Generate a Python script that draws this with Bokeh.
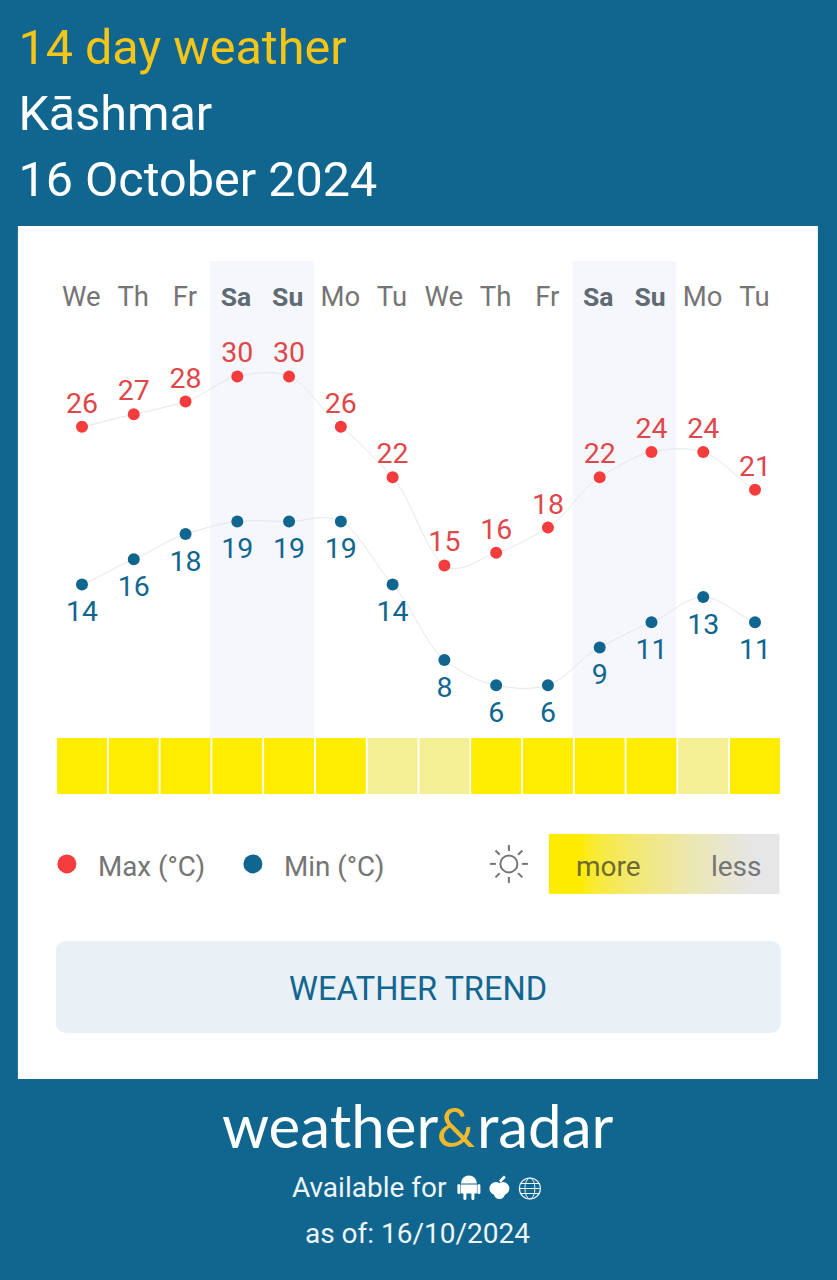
import numpy as np
from bokeh.core.properties import value
from bokeh.embed import file_html
from bokeh.models import GlobalInlineStyleSheet, Range1d
from bokeh.plotting import figure
from bokeh.resources import INLINE

days = ["We", "Th", "Fr", "Sa", "Su", "Mo", "Tu", "We", "Th", "Fr", "Sa", "Su", "Mo", "Tu"]
max_temps = [26, 27, 28, 30, 30, 26, 22, 15, 16, 18, 22, 24, 24, 21]
min_temps = [14, 16, 18, 19, 19, 19, 14, 8, 6, 6, 9, 11, 13, 11]
sunshine = [1, 1, 1, 1, 1, 1, 0, 0, 1, 1, 1, 1, 0, 1]

BLUE = "#10668f"
RED = "#f43c3c"
GREY = "#757575"
DAY_PX = 51.77
DEG_PX = 12.6
SHIFT = 0.6  # the frame lands a little right and down of the reference


def to_day(px):
    return (px - SHIFT - 81.5) / DAY_PX


def to_deg(py):
    return 30 + (375.9 - py) / DEG_PX


MIN_SHIFT = 0.51  # min series sits a little lower than the max one in the picture
TEXT_DROP = 1.2

p = figure(
    width=837,
    height=1280,
    output_backend="svg",
    toolbar_location=None,
    x_axis_type=None,
    y_axis_type=None,
    min_border=0,
    x_range=Range1d(to_day(SHIFT), to_day(837 + SHIFT)),
    y_range=Range1d(to_deg(1280 + SHIFT - 0.6), to_deg(SHIFT - 0.6)),
    background_fill_color=BLUE,
    border_fill_color=BLUE,
    outline_line_color=None,
)
p.grid.visible = False
p.extra_y_ranges["min"] = Range1d(to_deg(1280) + MIN_SHIFT, to_deg(0) + MIN_SHIFT)
p.stylesheets = [GlobalInlineStyleSheet(css=f"body {{ background: {BLUE}; }}")]


def label(px, py, text, size, color, align="left", style="normal", font="Roboto"):
    p.text(
        [to_day(px)], [to_deg(py + TEXT_DROP - 0.6)], text=[text], text_font=value(font),
        text_font_size=f"{size}px", text_color=color, text_align=align,
        text_baseline="middle", text_font_style=style,
    )


def smooth_curve(x, y, y_range_name="default"):
    # cardinal spline through the points, one bezier per day
    x = np.asarray(x, dtype=float)
    y = np.asarray(y, dtype=float)
    t = np.zeros(len(y))
    t[1:-1] = 0.4 * (y[2:] - y[:-2])
    t[0] = 0.8 * (y[1] - y[0])
    t[-1] = 0.8 * (y[-1] - y[-2])
    p.bezier(
        x[:-1], y[:-1], x[1:], y[1:],
        x[:-1] + 1 / 3, y[:-1] + t[:-1] / 3,
        x[1:] - 1 / 3, y[1:] - t[1:] / 3,
        line_color="#e4e6e9", line_width=1, y_range_name=y_range_name,
    )


x = np.arange(len(days))

# card
p.quad(left=to_day(18), right=to_day(818), top=to_deg(225.4), bottom=to_deg(1078.4), fill_color="white", line_color=None)

# weekend bands
weekend = [i for i, d in enumerate(days) if d in ("Sa", "Su")]
p.vbar(x=[i - 0.025 for i in weekend], width=1.0, top=to_deg(260.4), bottom=to_deg(737.4), fill_color="#f5f7fc", line_color=None)

# day names
for i, d in enumerate(days):
    if d in ("Sa", "Su"):
        label(80.7 + i * DAY_PX, 295, d, 26.5, "#5f6b72", "center", "bold")
    else:
        label(81.5 + i * DAY_PX, 295, d, 27.5, GREY, "center")

# temperature curves
smooth_curve(x, max_temps)
smooth_curve(x, min_temps, "min")
p.scatter(x, max_temps, size=12, fill_color=RED, line_color=None)
p.scatter(x, min_temps, size=12, fill_color=BLUE, line_color=None, y_range_name="min")
p.text(x, max_temps, text=[str(v) for v in max_temps], text_font=value("Roboto"), text_font_size="28.5px",
       text_color="#e0474a", text_align="center", text_baseline="middle", y_offset=-24)
p.text(x, min_temps, text=[str(v) for v in min_temps], text_font=value("Roboto"), text_font_size="28.5px",
       text_color=BLUE, text_align="center", text_baseline="middle", y_offset=27, y_range_name="min")

# sunshine strip
sun_colors = ["#ffec00" if s else "#f4ef94" for s in sunshine]
p.vbar(x=x, width=0.965, top=to_deg(737.4), bottom=to_deg(793.4), fill_color=sun_colors, line_color=None)

# legend
p.scatter([to_day(67), to_day(253)], [to_deg(863.4)] * 2, size=19, fill_color=[RED, BLUE], line_color=None)
label(98, 865, "Max (°C)", 27.8, GREY)
label(284, 865, "Min (°C)", 27.8, GREY)

# sun icon
angles = np.arange(8) * np.pi / 4
p.segment(to_day(509 + 13 * np.cos(angles)), to_deg(863.4 + 13 * np.sin(angles)),
          to_day(509 + 19 * np.cos(angles)), to_deg(863.4 + 19 * np.sin(angles)),
          line_color=GREY, line_width=2)
p.scatter([to_day(509)], [to_deg(863.4)], size=17, fill_color=None, line_color=GREY, line_width=2)

# more / less gradient
edges = np.arange(549, 781, 2)
mix = np.clip((edges[:-1] - 580) / 170, 0, 1) ** 0.6
grad = [f"#{int(255 + (230 - 255) * m):02x}{int(236 + (230 - 236) * m):02x}{int(0 + 230 * m):02x}" for m in mix]
p.quad(left=to_day(edges[:-1]), right=to_day(edges[1:] + 0.5), top=to_deg(833.4), bottom=to_deg(893.4), fill_color=grad, line_color=None)
label(576, 865, "more", 28, "#6f6a2e")
label(711, 865, "less", 28, GREY)

# button
p.quad(left=to_day(56), right=to_day(781), top=to_deg(940.4), bottom=to_deg(1032.4),
       fill_color="#e9f0f6", line_color=None, border_radius=10)
label(418.5, 988, "WEATHER TREND", 32.6, BLUE, "center")

# header
label(18.5, 46, "14 day weather", 48.5, "#f5c518")
label(18.5, 112, "Kāshmar", 48.5, "white")
label(18.5, 178, "16 October 2024", 48.5, "white")

# logo and footer
label(222, 1124, "weather", 60, "white", font="Lato")
label(456, 1125, "&", 54, "#eeb92d", "center", font="Lato")
label(477, 1124, "radar", 60, "white", font="Lato")
label(292, 1186, "Available for", 28, "#eef5f8")
label(305, 1232, "as of: 16/10/2024", 28, "#eef5f8")

# android icon
p.wedge([to_day(469)], [to_deg(1183)], radius=8, radius_units="screen", start_angle=0, end_angle=np.pi,
        fill_color="white", line_color=None)
p.quad(left=to_day(461), right=to_day(477), top=to_deg(1184), bottom=to_deg(1193), fill_color="white", line_color=None)
p.segment(to_day(np.array([459, 479, 465, 473])), to_deg(np.array([1185, 1185, 1192, 1192])),
          to_day(np.array([459, 479, 465, 473])), to_deg(np.array([1192, 1192, 1198, 1198])),
          line_color="white", line_width=3, line_cap="round")

# apple icon
p.scatter(to_day(np.array([496, 503])), [to_deg(1188)] * 2, size=13, fill_color="white", line_color=None)
p.scatter([to_day(499.5)], [to_deg(1193)], size=11, fill_color="white", line_color=None)
p.segment(to_day(500), to_deg(1181), to_day(505), to_deg(1176), line_color="white", line_width=2.5)

# globe icon
p.scatter([to_day(530)], [to_deg(1188)], size=21, fill_color=None, line_color="#eef5f8", line_width=1.2)
p.ellipse([to_day(530)], [to_deg(1188)], width=10, height=21, width_units="screen", height_units="screen",
          fill_color=None, line_color="#eef5f8", line_width=1)
p.segment(to_day(np.array([520, 520, 520])), to_deg(np.array([1183, 1188, 1193])),
          to_day(np.array([540, 540, 540])), to_deg(np.array([1183, 1188, 1193])),
          line_color="#eef5f8", line_width=1)

open("out.html", "w").write(file_html(p, INLINE))
